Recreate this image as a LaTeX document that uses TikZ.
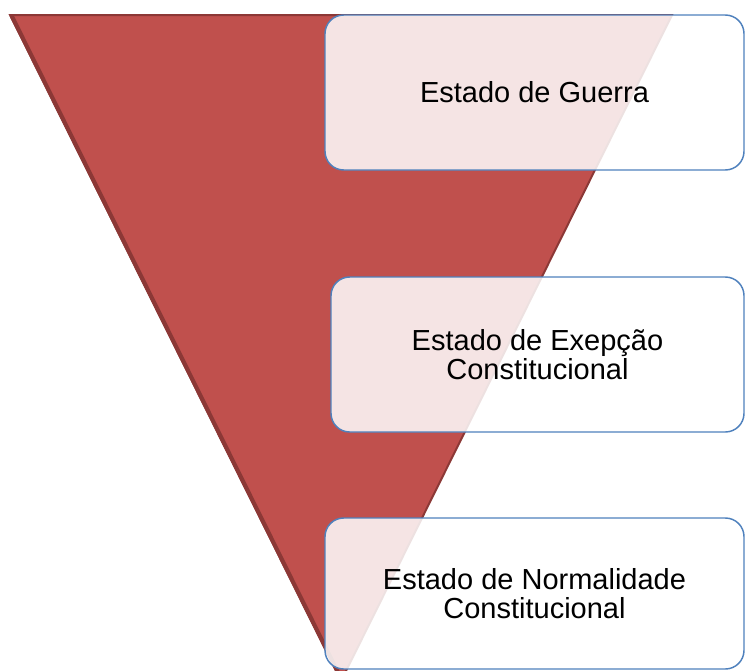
\documentclass[tikz,border=0pt]{standalone}
\usepackage{fontspec}
\setmainfont{Liberation Sans}
\usetikzlibrary{positioning}

\definecolor{wedgered}{HTML}{C0504D}
\definecolor{wedgeedge}{HTML}{8C3836}
\definecolor{boxblue}{HTML}{4F81BD}

\tikzset{
  statebox/.style={draw=boxblue, line width=1.1pt, rounded corners=14pt,
    fill=white, fill opacity=0.85, text opacity=1, align=center,
    font=\fontsize{21.75pt}{22pt}\selectfont, inner sep=0pt},
}

\begin{document}
\begin{tikzpicture}[x=0.75pt,y=-0.75pt]
    \useasboundingbox (0,0) rectangle (746,671);
    \clip (0,0) rectangle (746,671);
    % the wedge
    \coordinate (topleft) at (10,15);
    \coordinate (topright) at (672,15);
    \coordinate (apex) at (341,681);
    \fill[wedgered, draw=wedgeedge, line width=1.5pt]
      (topleft) -- (topright) -- (apex) -- cycle;
    \draw[wedgeedge, line width=3pt] ([xshift=1pt]topleft) -- ([xshift=1pt]apex);
    % the three states
    \node[statebox, minimum width=314.25pt, minimum height=116.25pt]
      (guerra) at (534.5,92.5) {Estado de Guerra};
    \node[statebox, minimum width=309.75pt, minimum height=116.25pt]
      (excecao) at (537.5,354.5) {Estado de Exepção\\Constitucional};
    \node[statebox, minimum width=314.25pt, minimum height=113.25pt]
      (normal) at (534.5,593.5) {Estado de Normalidade\\Constitucional};
\end{tikzpicture}
\end{document}
